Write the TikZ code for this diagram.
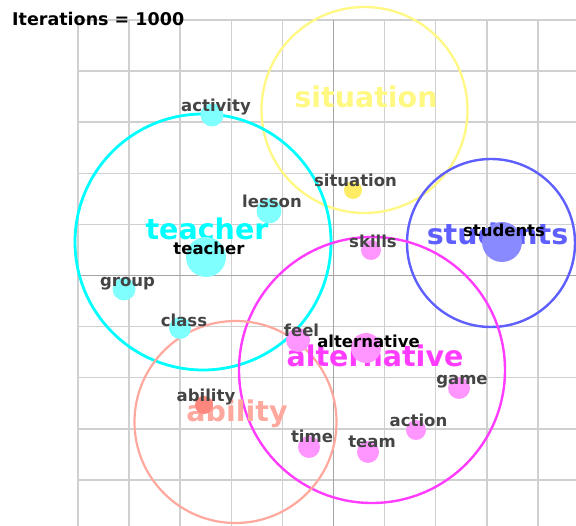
\documentclass[tikz,border=0pt]{standalone}
\usepackage{fontspec}
\setmainfont{DejaVu Sans}
\usetikzlibrary{positioning}

\definecolor{gridgray}{RGB}{208,208,208}
\definecolor{axisgray}{RGB}{165,165,165}
\definecolor{lblgray}{RGB}{68,68,68}
\definecolor{tcyan}{RGB}{0,255,255}
\definecolor{dcyan}{RGB}{128,255,255}
\definecolor{tyellow}{RGB}{255,248,130}
\definecolor{dyellow}{RGB}{255,236,100}
\definecolor{tblue}{RGB}{95,95,255}
\definecolor{dblue}{RGB}{138,138,255}
\definecolor{tmagenta}{RGB}{255,60,255}
\definecolor{dmagenta}{RGB}{255,150,255}
\definecolor{tpink}{RGB}{255,168,158}
\definecolor{dpink}{RGB}{255,135,125}

\begin{document}
\begin{tikzpicture}[x=1pt,y=-1pt,
    cluster/.style={circle,draw,line width=2.4pt,inner sep=0pt},
    dot/.style={circle,inner sep=0pt,draw=none},
    title/.style={font=\fontsize{28.5}{30}\selectfont\bfseries,inner sep=0pt,anchor=base},
    lbl/.style={font=\fontsize{16.5}{18}\selectfont\bfseries,text=lblgray,inner sep=0pt,anchor=base},
    key/.style={lbl,text=black}]
   \useasboundingbox[fill=white] (0,0) rectangle (576,526);
   % grid
   \foreach \k in {0,...,9} {
      \draw[gridgray,line width=1.5pt] (78+51.1*\k,20) -- (78+51.1*\k,526);
      \draw[gridgray,line width=1.5pt] (78,20+51.1*\k) -- (576,20+51.1*\k);
   }
   \draw[axisgray,line width=1.3pt] (333.5,20) -- (333.5,526);
   \draw[axisgray,line width=1.3pt] (78,275.5) -- (576,275.5);
   \node[anchor=base west,inner sep=0pt,font=\fontsize{17.5}{19}\selectfont\bfseries] (iter) at (12,26) {Iterations = 1000};

   % clusters
   \node[cluster,draw=tyellow,line width=2.3pt,minimum size=206] (c_situation) at (364.5,110) {};
   \node[cluster,draw=tcyan,line width=2.8pt,minimum size=256] (c_teacher) at (203,242) {};
   \node[cluster,draw=tblue,minimum size=168] (c_students) at (491,243) {};
   \node[cluster,draw=tmagenta,minimum size=266] (c_alternative) at (372,370) {};
   \node[cluster,draw=tpink,line width=2.2pt,minimum size=202] (c_ability) at (235.5,422) {};

   \node[title,text=tyellow] (t_situation) at (366,108) {situation};
   \node[title,text=tcyan] (t_teacher) at (207,240) {teacher};
   \node[title,text=tblue] (t_students) at (497.5,245) {students};
   \node[title,text=tmagenta] (t_alternative) at (375,367) {alternative};
   \node[title,text=tpink] (t_ability) at (237,421.5) {ability};

   % words
   \node[dot,fill=dcyan,minimum size=23] (d_activity) at (212,115) {};
   \node[dot,fill=dcyan,minimum size=25] (d_lesson) at (269,211) {};
   \node[dot,fill=dcyan,minimum size=40] (d_teacher) at (206,257) {};
   \node[dot,fill=dcyan,minimum size=23] (d_group) at (124,289) {};
   \node[dot,fill=dcyan,minimum size=22] (d_class) at (180,328) {};
   \node[dot,fill=dyellow,minimum size=18] (d_situation) at (353,190) {};
   \node[dot,fill=dblue,minimum size=40] (d_students) at (502,242) {};
   \node[dot,fill=dmagenta,minimum size=20] (d_skills) at (371,250) {};
   \node[dot,fill=dmagenta,minimum size=24] (d_feel) at (298,340) {};
   \node[dot,fill=dmagenta,minimum size=30] (d_alternative) at (366,348) {};
   \node[dot,fill=dmagenta,minimum size=22] (d_game) at (459,388) {};
   \node[dot,fill=dmagenta,minimum size=20] (d_action) at (416,430) {};
   \node[dot,fill=dmagenta,minimum size=22] (d_time) at (309,447) {};
   \node[dot,fill=dmagenta,minimum size=22] (d_team) at (368,452) {};
   \node[dot,fill=dpink,minimum size=18] (d_ability) at (204,405) {};

   \node[lbl] (l_activity) at (216,111.5) {activity};
   \node[lbl] (l_lesson) at (272,208) {lesson};
   \node[key] (l_teacher) at (209,255) {teacher};
   \node[lbl] (l_group) at (127.5,286.5) {group};
   \node[lbl] (l_class) at (184,326.5) {class};
   \node[lbl] (l_situation) at (355.5,187) {situation};
   \node[key] (l_students) at (504,236.5) {students};
   \node[lbl] (l_skills) at (373,248) {skills};
   \node[lbl] (l_feel) at (301.5,336.5) {feel};
   \node[key] (l_alternative) at (368.5,348) {alternative};
   \node[lbl] (l_game) at (462,385) {game};
   \node[lbl] (l_action) at (418.5,426.5) {action};
   \node[lbl] (l_time) at (312,442.5) {time};
   \node[lbl] (l_team) at (372,447.5) {team};
   \node[lbl] (l_ability) at (206,401.5) {ability};
\end{tikzpicture}
\end{document}
